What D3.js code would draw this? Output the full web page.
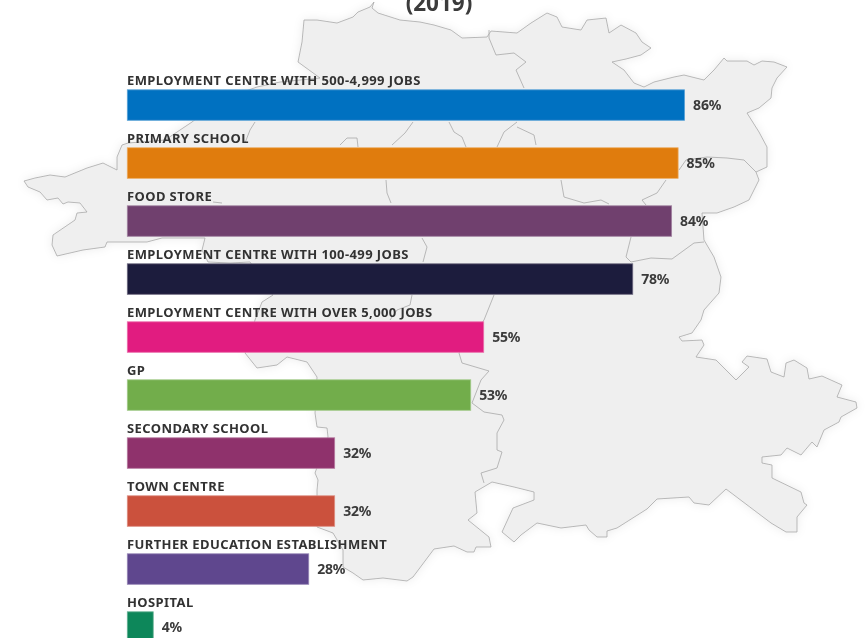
<!DOCTYPE html>
<html><head><meta charset="utf-8">
<script src="https://cdnjs.cloudflare.com/ajax/libs/d3/7.9.0/d3.min.js"></script>
<style>html,body{margin:0;padding:0;background:#fff;overflow:hidden}svg{display:block}</style>
</head><body><svg id="c" width="867" height="638"></svg>
<script>
const titleText = "(2019)";
const categories = ["EMPLOYMENT CENTRE WITH 500-4,999 JOBS","PRIMARY SCHOOL","FOOD STORE","EMPLOYMENT CENTRE WITH 100-499 JOBS","EMPLOYMENT CENTRE WITH OVER 5,000 JOBS","GP","SECONDARY SCHOOL","TOWN CENTRE","FURTHER EDUCATION ESTABLISHMENT","HOSPITAL"];
const values = [86,85,84,78,55,53,32,32,28,4];
const barColors = ["#0071c1","#e07b07","#70406e","#1f1a3c","#e11e80","#72ad4b","#8f316c","#cb513d","#5f478e","#10875a"];
const mapOutline = [[374,2],[372,8],[378,13],[400,20],[420,22],[434,25],[451,30],[462,38],[487,37],[491,31],[517,33],[531,23],[547,13],[557,17],[562,27],[581,30],[587,20],[606,18],[609,33],[621,25],[636,33],[642,42],[651,48],[641,55],[626,59],[612,62],[624,70],[634,83],[644,87],[654,82],[674,77],[684,75],[704,80],[714,70],[724,58],[727,61],[747,61],[754,65],[762,61],[774,62],[787,67],[777,78],[772,88],[771,98],[759,108],[747,113],[759,132],[767,147],[767,167],[756,172],[759,180],[749,200],[734,207],[717,213],[702,213],[704,240],[714,257],[721,277],[719,293],[704,310],[701,320],[692,333],[679,337],[682,341],[702,340],[704,345],[696,357],[716,360],[736,380],[749,367],[742,362],[747,356],[767,359],[771,372],[784,377],[786,363],[794,360],[807,368],[809,379],[822,376],[842,385],[837,397],[856,402],[857,408],[841,417],[839,422],[824,430],[817,447],[812,442],[801,455],[787,448],[781,455],[762,457],[762,463],[772,465],[772,478],[801,492],[804,503],[807,505],[797,517],[797,532],[786,532],[771,523],[726,489],[709,505],[694,503],[689,497],[657,499],[647,509],[617,528],[607,531],[607,537],[597,537],[589,530],[586,525],[561,528],[537,523],[521,535],[514,542],[502,532],[513,508],[534,500],[534,492],[514,487],[492,482],[475,492],[477,513],[468,520],[489,537],[491,547],[476,547],[474,552],[467,552],[454,546],[434,549],[413,577],[407,581],[383,578],[363,580],[353,573],[343,567],[343,550],[333,533],[317,527],[317,490],[318,480],[315,473],[328,437],[327,428],[317,427],[315,413],[317,377],[307,362],[287,357],[277,365],[257,368],[245,353],[255,320],[262,302],[273,295],[250,262],[230,263],[208,262],[202,250],[205,238],[162,238],[147,242],[107,242],[105,247],[83,250],[57,256],[52,245],[53,235],[75,220],[77,213],[87,212],[80,203],[68,202],[63,204],[58,198],[47,200],[40,192],[28,187],[24,181],[35,178],[50,175],[65,177],[87,168],[103,163],[117,170],[117,157],[122,145],[128,143],[165,140],[192,122],[220,100],[257,87],[280,82],[320,78],[298,62],[302,42],[304,20],[317,20],[337,23],[353,17],[358,12],[370,7]];
const mapBorders = [
 [[255,122],[250,130],[245,143]],
 [[413,122],[405,133],[392,145]],
 [[340,145],[347,138],[357,138],[358,147]],
 [[386,180],[387,193],[391,203]],
 [[213,202],[222,203]],
 [[422,238],[427,247],[423,262]],
 [[412,295],[410,305],[397,310],[390,320]],
 [[494,295],[484,320],[459,353],[462,363],[489,371],[481,380],[472,403],[484,412],[502,415],[504,420],[497,433],[497,450],[502,452],[497,468],[481,473],[484,483]],
 [[489,30],[489,38],[496,55],[514,53],[526,62],[516,70],[524,88]],
 [[449,122],[454,132],[462,137],[466,147]],
 [[517,122],[504,132],[497,147]],
 [[517,127],[534,135],[536,145]],
 [[561,180],[564,197],[584,203],[601,200],[609,204]],
 [[666,180],[657,193],[642,200],[646,205]],
 [[679,170],[686,160],[707,157],[727,158],[744,160],[756,172]],
 [[631,237],[626,257],[631,262],[651,258],[672,259],[694,243],[704,242]]
];

const svg = d3.select("#c");
const defs = svg.append("defs");
const f = defs.append("filter").attr("id","glow").attr("x","-10%").attr("y","-10%").attr("width","120%").attr("height","120%");
f.append("feDropShadow").attr("dx",0).attr("dy",0).attr("stdDeviation",5).attr("flood-color","#000").attr("flood-opacity",0.08);
defs.append("filter").attr("id","soft").attr("x",0).attr("y",0).attr("filterUnits","userSpaceOnUse")
  .attr("width",867).attr("height",638).append("feGaussianBlur").attr("stdDeviation",0.3);

const root = svg.append("g").attr("filter","url(#soft)");
root.append("rect").attr("width",867).attr("height",638).attr("fill","#fff");
const line = d3.line();
const map = root.append("g");
map.append("path").attr("d", line(mapOutline)+"Z").attr("fill","#efefef").attr("stroke","#a8a8a8").attr("stroke-width",0.8).attr("stroke-linejoin","round").attr("filter","url(#glow)");
map.selectAll("path.b").data(mapBorders).join("path").attr("class","b").attr("d",d=>line(d)).attr("fill","none").attr("stroke","#a8a8a8").attr("stroke-width",0.8);

const x = d3.scaleLinear().domain([0,100]).range([127.3,775.3]);
const y = d3.scaleBand().domain(categories).range([89.8,89.8+58*10-27.5]).paddingInner(27.5/58).paddingOuter(0).align(0);
const font = "'Noto Sans','Open Sans',sans-serif";

root.append("text").attr("x",439).attr("y",10.5).attr("text-anchor","middle").attr("font-family",font).attr("font-weight",700).attr("font-size",22.5).attr("fill","#3a3a3a").text(titleText);

const rows = root.selectAll("g.r").data(categories.map((c,i)=>({c,v:values[i],col:barColors[i]}))).join("g").attr("class","r");
rows.append("rect").attr("x",x(0)).attr("y",d=>y(d.c)).attr("width",d=>x(d.v)-x(0)).attr("height",y.bandwidth())
 .attr("fill",d=>d.col).attr("stroke",d=>d3.interpolateRgb(d.col,"#fff")(0.35)).attr("stroke-width",0.8);
rows.append("text").attr("x",127).attr("y",d=>y(d.c)-5).attr("font-family",font).attr("font-weight",700).attr("font-size",13).attr("letter-spacing",0.4).attr("fill","#333").text(d=>d.c);
rows.append("text").attr("x",d=>x(d.v)+8.5).attr("y",d=>y(d.c)+20.5).attr("font-family",font).attr("font-weight",700).attr("font-size",14).attr("letter-spacing",-0.2).attr("fill","#3a3a3a").text(d=>d.v+"%");
</script></body></html>
